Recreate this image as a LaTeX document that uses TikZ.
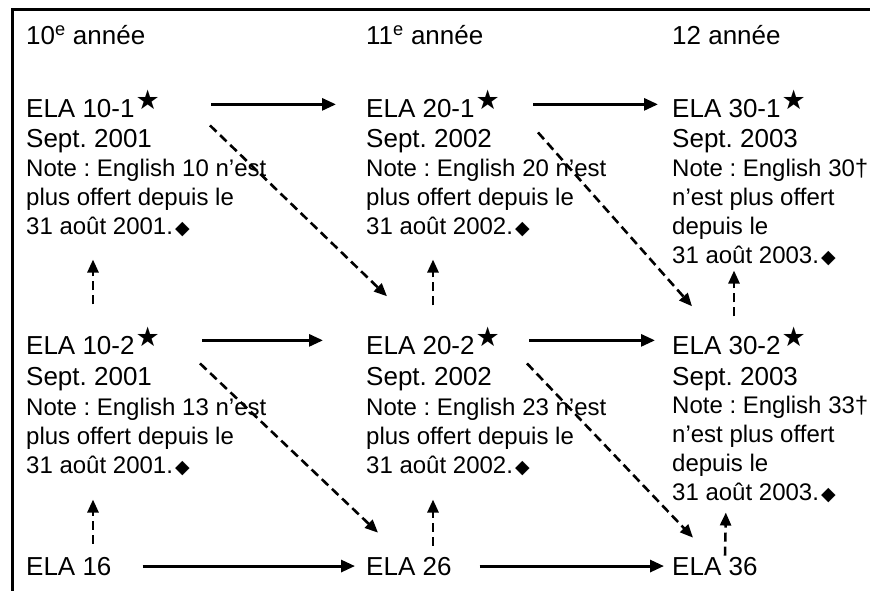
\documentclass[tikz,border=0pt]{standalone}
\usepackage{fontspec}
\setmainfont{Liberation Sans}
\newfontfamily\symfont{DejaVu Sans}
\usetikzlibrary{arrows.meta,calc}
\frenchspacing

\newcommand{\etoile}{\kern1pt\raisebox{8pt}{\symfont\fontsize{27}{27}\selectfont ★}}
\newcommand{\losange}{\kern2pt{\symfont\fontsize{19}{19}\selectfont ◆}}

\tikzset{
  titre/.style={anchor=base west, inner sep=0pt, font=\fontsize{26}{29}\selectfont},
  cours/.style={anchor=base west, inner sep=0pt, font=\fontsize{26}{29}\selectfont},
  note/.style={anchor=base west, inner sep=0pt, align=left, font=\fontsize{24}{29}\selectfont},
  suite/.style={line width=2.9pt, -{Triangle[length=14pt,width=12pt]}},
  saut/.style={line width=2.6pt, dash pattern=on 9pt off 5pt, -{Triangle[length=13pt,width=11pt]}},
}

\begin{document}
\begin{tikzpicture}[x=1pt,y=-1pt]
  \useasboundingbox (0,0) rectangle (870,591);
  \draw[line width=3pt] (12,591) -- (12,10) -- (870,10);
  % titres
  \node[titre] (t10) at (26,45) {10\textsuperscript{e} année};
  \node[titre] (t11) at (366,45) {11\textsuperscript{e} année};
  \node[titre] (t12) at (672,45) {12 année};
  % cours -1 (notes placees par leur derniere ligne)
  \node[cours] (c101) at (26,118) {ELA 10-1\etoile};
  \node[cours] (d101) at (26,147) {Sept. 2001};
  \node[note] (n101) at (26,234) {Note : English 10 n’est\\plus offert depuis le\\31 août 2001.\losange};
  \node[cours] (c201) at (366,118) {ELA 20-1\etoile};
  \node[cours] (d201) at (366,147) {Sept. 2002};
  \node[note] (n201) at (366,234) {Note : English 20 n’est\\plus offert depuis le\\31 août 2002.\losange};
  \node[cours] (c301) at (672,118) {ELA 30-1\etoile};
  \node[cours] (d301) at (672,147) {Sept. 2003};
  \node[note] (n301) at (672,263) {Note : English 30†\\n’est plus offert\\depuis le\\31 août 2003.\losange};
  % cours -2
  \node[cours] (c102) at (26,354) {ELA 10-2\etoile};
  \node[cours] (d102) at (26,385) {Sept. 2001};
  \node[note] (n102) at (26,473) {Note : English 13 n’est\\plus offert depuis le\\31 août 2001.\losange};
  \node[cours] (c202) at (366,354) {ELA 20-2\etoile};
  \node[cours] (d202) at (366,385) {Sept. 2002};
  \node[note] (n202) at (366,473) {Note : English 23 n’est\\plus offert depuis le\\31 août 2002.\losange};
  \node[cours] (c302) at (672,354) {ELA 30-2\etoile};
  \node[cours] (d302) at (672,385) {Sept. 2003};
  \node[note] (n302) at (672,500) {Note : English 33†\\n’est plus offert\\depuis le\\31 août 2003.\losange};
  % cours -4
  \node[cours] (c16) at (26,575) {ELA 16};
  \node[cours] (c26) at (366,575) {ELA 26};
  \node[cours] (c36) at (672,575) {ELA 36};
  \begin{scope}[suite]
    \draw[shorten <=51pt, shorten >=30pt] (c101.east) to (c201.west);
    \draw[shorten <=33pt, shorten >=14pt] (c201.east) to (c301.west);
    \draw[shorten <=42pt, shorten >=43pt] (c102.east) to (c202.west);
    \draw[shorten <=29pt, shorten >=17pt] (c202.east) to (c302.west);
    \draw[shorten <=31pt, shorten >=11pt] (c16.east) to (c26.west);
    \draw[shorten <=28pt, shorten >=8pt] (c26.east) to (c36.west);
  \end{scope}
  \begin{scope}[saut]
    \draw ($(c101.south east)+(50,7)$) to ($(c202.north west)+(21,-30)$);
    \draw ($(c201.south east)+(38,14)$) to ($(c302.north west)+(20,-20)$);
    \draw ($(c102.south east)+(40,9)$) to ($(c26.north west)+(12,-24)$);
    \draw ($(c202.south east)+(27,9)$) to ($(c36.north west)+(21,-19)$);
    \draw[shorten <=22pt, shorten >=23pt] (c102.north) to (c102.north |- n101.south);
    \draw[shorten <=21pt, shorten >=23pt] (c202.north) to (c202.north |- n201.south);
    \draw[shorten <=10pt, shorten >=5pt] ([xshift=-5pt]c302.north) to ([xshift=-5pt]c302.north |- n301.south);
    \draw[shorten <=13pt, shorten >=24pt] (c102 |- c16.north) to (c102 |- n102.south);
    \draw[shorten <=11pt, shorten >=24pt] (c202 |- c26.north) to (c202 |- n202.south);
    \draw[shorten <=1pt, shorten >=10pt] ([xshift=-14pt]c302 |- c36.north) to ([xshift=-13pt]c302 |- n302.south);
  \end{scope}
\end{tikzpicture}
\end{document}
